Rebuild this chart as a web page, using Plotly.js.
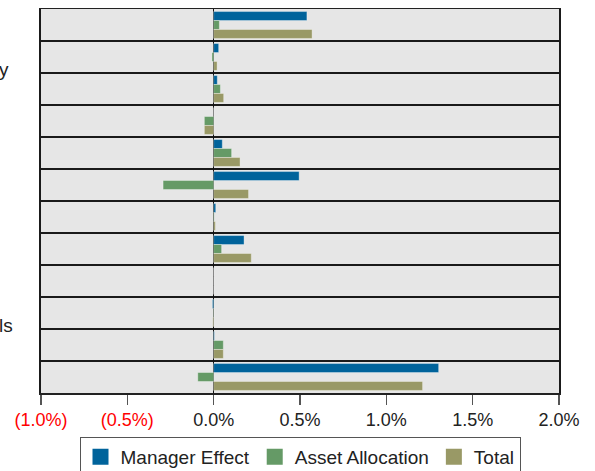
<!DOCTYPE html>
<html>
<head>
<meta charset="utf-8">
<script src="https://cdn.plot.ly/plotly-3.0.1.min.js"></script>
<style>html,body{margin:0;padding:0;background:#fff;}#chart{width:595px;height:471px;}</style>
</head>
<body>
<div id="chart"></div>
<script>
// Category rows (labels are cropped off in the reference; only fragments are visible)
const categories = ["C1","C2","C3","C4","C5","C6","C7","C8","C9","C10","C11","C12"];
const managerEffect   = [0.54, 0.029, 0.021, 0.0, 0.05, 0.495, 0.012, 0.176, 0.0, -0.007, 0.004, 1.303];
const assetAllocation = [0.033, -0.01, 0.039, -0.054, 0.104, -0.293, 0.003, 0.046, 0.0, 0.002, 0.056, -0.092];
const total           = [0.57, 0.02, 0.058, -0.054, 0.153, 0.202, 0.01, 0.218, 0.0, -0.005, 0.056, 1.21];
const seriesNames = ["Manager Effect", "Asset Allocation", "Total"];
const tickVals = [-1.0, -0.5, 0.0, 0.5, 1.0, 1.5, 2.0];
const tickText = ['<span style="color:#ff0000">(1.0%)</span>', '<span style="color:#ff0000">(0.5%)</span>', "0.0%", "0.5%", "1.0%", "1.5%", "2.0%"];
const visibleLabelFragments = ["y", "ls"];

const colors = ["#00639b", "#659a66", "#999966"];
const seriesData = [managerEffect, assetAllocation, total];

const traces = seriesData.map((vals, i) => ({
  type: "bar",
  orientation: "h",
  name: seriesNames[i],
  y: categories,
  x: vals,
  showlegend: false,
  marker: {color: colors[i], line: {color: "rgba(255,255,255,0.35)", width: 1}},
  hoverinfo: "x+name"
}));
// legend entries with larger square swatches
seriesNames.forEach((nm, i) => {
  traces.push({
    type: "scatter", mode: "markers", name: nm,
    x: [null], y: [null],
    marker: {symbol: "square", size: 16, color: colors[i]},
    showlegend: true, hoverinfo: "skip"
  });
});

const layout = {
  width: 595, height: 471,
  margin: {l: 41, r: 36, t: 9, b: 78, autoexpand: false},
  paper_bgcolor: "#ffffff",
  plot_bgcolor: "#e6e6e6",
  barmode: "group",
  bargap: 0.16,
  bargroupgap: 0,
  font: {family: "Liberation Sans, Arial, sans-serif", size: 18, color: "#222"},
  xaxis: {
    range: [-1.0, 2.0],
    tickvals: tickVals,
    ticktext: tickText,
    showgrid: false,
    zeroline: true, zerolinecolor: "#111", zerolinewidth: 1.5,
    showline: true, linecolor: "#222", linewidth: 1.5, mirror: true,
    ticks: "outside", ticklen: 10, tickwidth: 1.5, tickcolor: "#555",
    tickfont: {size: 18, color: "#222"},
    automargin: false,
    fixedrange: true
  },
  yaxis: {
    type: "category",
    autorange: "reversed",
    showticklabels: false,
    tickson: "boundaries",
    ticks: "",
    showgrid: true, gridcolor: "#1a1a1a", gridwidth: 1.5,
    showline: true, linecolor: "#1a1a1a", linewidth: 2, mirror: true,
    automargin: false,
    fixedrange: true
  },
  showlegend: true,
  legend: {
    orientation: "h",
    x: 0.5, xanchor: "center",
    y: -0.114, yanchor: "top",
    bordercolor: "#555", borderwidth: 1,
    font: {size: 19, color: "#222"},
    traceorder: "normal",
    itemwidth: 30
  },
  annotations: [
    {xref: "paper", yref: "paper", x: -0.085, y: 0.842, xanchor: "left", yanchor: "middle",
     text: visibleLabelFragments[0], showarrow: false, font: {size: 19, color: "#222"}},
    {xref: "paper", yref: "paper", x: -0.085, y: 0.175, xanchor: "left", yanchor: "middle",
     text: visibleLabelFragments[1], showarrow: false, font: {size: 19, color: "#222"}}
  ]
};

Plotly.newPlot("chart", traces, layout, {displayModeBar: false, staticPlot: true});
</script>
</body>
</html>
